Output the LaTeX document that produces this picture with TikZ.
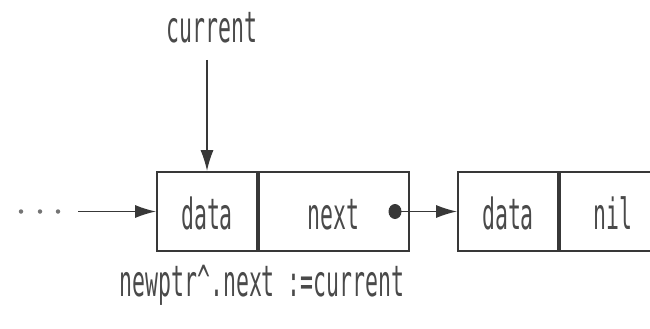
\documentclass[tikz,border=0pt]{standalone}
\usepackage{fontspec}
\newfontfamily\codefont[FakeStretch=0.5]{DejaVu Sans Mono}
\usetikzlibrary{arrows.meta,shapes.geometric}
\definecolor{ink}{HTML}{383838}
\definecolor{txt}{HTML}{4A4A4A}
\tikzset{
  code/.style={font=\codefont\fontsize{43}{48}\selectfont, text=txt, inner sep=0pt},
  cell/.style={code, draw=ink, line width=1.7pt, minimum height=79pt,
               text height=35pt, text depth=0pt},
  link/.style={draw=ink, line width=1.7pt, -{Latex[length=21pt,width=13pt]}},
  dotmark/.style={circle, fill=ink!70, inner sep=0pt, minimum size=4.5pt},
}
\begin{document}
\begin{tikzpicture}[x=1pt,y=-1pt]
  \useasboundingbox (0,0) rectangle (650,329);
  \clip (0,0) rectangle (650,329);

  % first record: data | next
  \node[cell, minimum width=100pt] (d1) at (207,211.5) {data};
  \node[cell, minimum width=150pt, anchor=west] (n1) at (d1.east) {next};

  % second record: data | nil
  \node[cell, minimum width=100pt] (d2) at (508,211.5) {data};
  \node[cell, minimum width=106pt, anchor=west] (n2) at (d2.east) {nil};

  % pointer stored in the next field
  \node[ellipse, fill=ink, inner sep=0pt, minimum width=13pt, minimum height=15pt] (ptr) at (395,211.5) {};
  \draw[link] (ptr.center) -- (d2.west);

  % preceding part of the list
  \node[dotmark] (e1) at (21,211.5) {};
  \node[dotmark] (e2) at (40,211.5) {};
  \node[dotmark] (e3) at (58,211.5) {};
  \coordinate (prev) at (78,211.5);
  \draw[link] (prev) -- (d1.west);

  % the current pointer
  \node[code, anchor=base] (cur) at (212,43) {current};
  \coordinate (curfoot) at (207,60);
  \draw[link] (curfoot) -- (d1.north);

  % assignment
  \node[code, anchor=base] (stmt) at (262,296) {newptr\^{}.next :=current};
\end{tikzpicture}
\end{document}
